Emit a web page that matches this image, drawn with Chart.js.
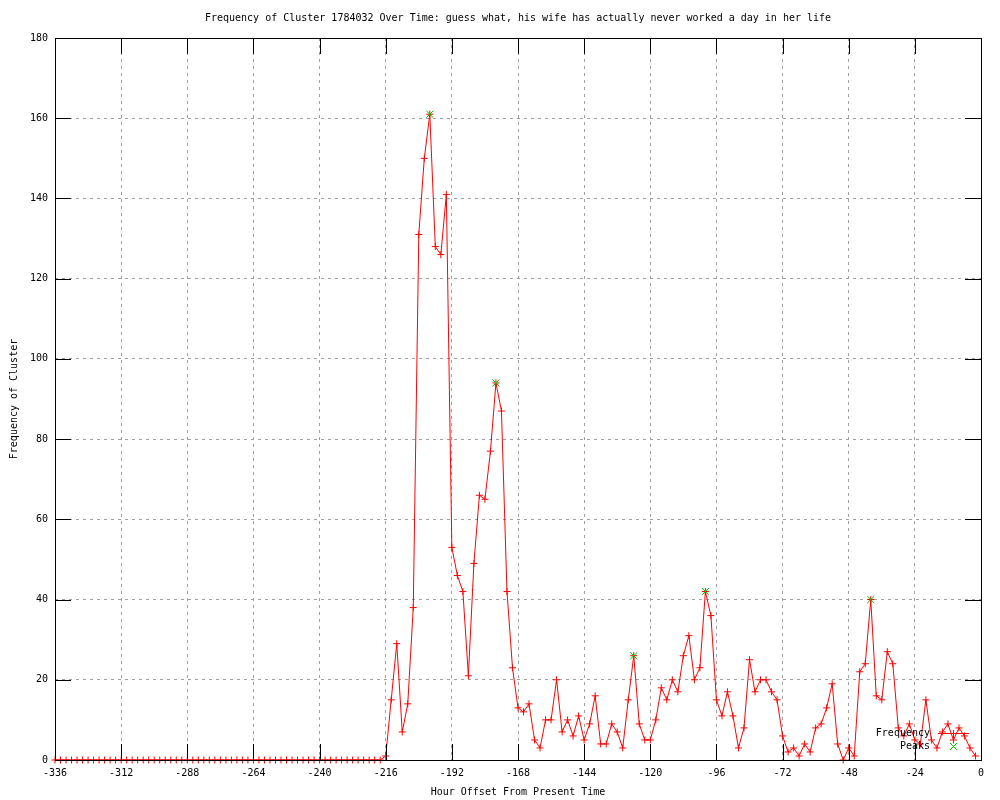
<!DOCTYPE html>
<html><head><meta charset="utf-8">
<script src="https://cdn.jsdelivr.net/npm/chart.js@4/dist/chart.umd.min.js"></script>
<style>html,body{margin:0;padding:0;background:#fff}canvas{display:block}</style>
</head><body>
<canvas id="c" width="1000" height="800"></canvas>
<script>
const titleText = 'Frequency of Cluster 1784032 Over Time: guess what, his wife has actually never worked a day in her life';
const xTitle = 'Hour Offset From Present Time';
const yTitle = 'Frequency of Cluster';

const hours = [
-336,-334,-332,-330,-328,-326,-324,-322,-320,-318,-316,-314,-312,-310,-308,-306,-304,-302,-300,-298,
-296,-294,-292,-290,-288,-286,-284,-282,-280,-278,-276,-274,-272,-270,-268,-266,-264,-262,-260,-258,
-256,-254,-252,-250,-248,-246,-244,-242,-240,-238,-236,-234,-232,-230,-228,-226,-224,-222,-220,-218,
-216,-214,-212,-210,-208,-206,-204,-202,-200,-198,-196,-194,-192,-190,-188,-186,-184,-182,-180,-178,
-176,-174,-172,-170,-168,-166,-164,-162,-160,-158,-156,-154,-152,-150,-148,-146,-144,-142,-140,-138,
-136,-134,-132,-130,-128,-126,-124,-122,-120,-118,-116,-114,-112,-110,-108,-106,-104,-102,-100,-98,
-96,-94,-92,-90,-88,-86,-84,-82,-80,-78,-76,-74,-72,-70,-68,-66,-64,-62,-60,-58,
-56,-54,-52,-50,-48,-46,-44,-42,-40,-38,-36,-34,-32,-30,-28,-26,-24,-22,-20,-18,
-16,-14,-12,-10,-8,-6,-4,-2
];
const frequency = [
0,0,0,0,0,0,0,0,0,0,0,0,0,0,0,0,0,0,0,0,
0,0,0,0,0,0,0,0,0,0,0,0,0,0,0,0,0,0,0,0,
0,0,0,0,0,0,0,0,0,0,0,0,0,0,0,0,0,0,0,0,
1,15,29,7,14,38,131,150,161,128,126,141,53,46,42,21,49,66,65,77,
94,87,42,23,13,12,14,5,3,10,10,20,7,10,6,11,5,9,16,4,
4,9,7,3,15,26,9,5,5,10,18,15,20,17,26,31,20,23,42,36,
15,11,17,11,3,8,25,17,20,20,17,15,6,2,3,1,4,2,8,9,
13,19,4,0,3,1,22,24,40,16,15,27,24,8,6,9,5,4,15,5,
3,7,9,5,8,6,3,1
];
const peakHours = [-200, -176, -126, -100, -40];
const peakValues = [161, 94, 26, 42, 40];
const xTickValues = [-336,-312,-288,-264,-240,-216,-192,-168,-144,-120,-96,-72,-48,-24,0];
const yTickValues = [0,20,40,60,80,100,120,140,160,180];
const seriesNames = ['Frequency', 'Peaks'];

const RED = '#ff0000', GREEN = '#00c000';
const FONT = "'DejaVu Sans Mono', 'Liberation Mono', monospace";
Chart.defaults.font.family = FONT;
Chart.defaults.font.size = 10;
Chart.defaults.color = '#000';

const TICK = 16;
const framePlugin = {
  id: 'frame',
  afterDatasetsDraw(chart) {
    const ctx = chart.ctx, a = chart.chartArea;
    const xs = chart.scales.x, ys = chart.scales.y;
    ctx.save();
    ctx.strokeStyle = '#000';
    ctx.lineWidth = 1;
    ctx.setLineDash([]);
    ctx.beginPath();
    xs.ticks.forEach(t => {
      const px = Math.round(xs.getPixelForValue(t.value)) + 0.5;
      ctx.moveTo(px, a.bottom); ctx.lineTo(px, a.bottom - TICK);
      ctx.moveTo(px, a.top); ctx.lineTo(px, a.top + TICK);
    });
    ys.ticks.forEach(t => {
      const py = Math.round(ys.getPixelForValue(t.value)) + 0.5;
      ctx.moveTo(a.left, py); ctx.lineTo(a.left + TICK, py);
      ctx.moveTo(a.right, py); ctx.lineTo(a.right - TICK, py);
    });
    ctx.stroke();
    ctx.strokeRect(Math.round(a.left) + 0.5, Math.round(a.top) + 0.5, Math.round(a.right - a.left), Math.round(a.bottom - a.top));

    // title centred over the plot
    ctx.font = '10px ' + FONT;
    ctx.fillStyle = '#000';
    ctx.textAlign = 'center';
    ctx.textBaseline = 'middle';
    ctx.fillText(titleText, (a.left + a.right) / 2, 18);

    // key (legend) in lower right
    const tx = a.right - 51, lx1 = a.right - 43, lx2 = a.right - 12, mx = a.right - 28;
    const y1 = a.bottom - 27, y2 = a.bottom - 14;
    ctx.textAlign = 'right';
    ctx.fillText(seriesNames[0], tx, y1);
    ctx.fillText(seriesNames[1], tx, y2);
    ctx.strokeStyle = RED;
    ctx.beginPath();
    ctx.moveTo(lx1, y1 + 0.5); ctx.lineTo(lx2, y1 + 0.5);
    ctx.moveTo(mx + 0.5, y1 - 3); ctx.lineTo(mx + 0.5, y1 + 4);
    ctx.stroke();
    ctx.strokeStyle = GREEN;
    ctx.beginPath();
    ctx.moveTo(mx - 3, y2 - 3); ctx.lineTo(mx + 4, y2 + 4);
    ctx.moveTo(mx + 4, y2 - 3); ctx.lineTo(mx - 3, y2 + 4);
    ctx.stroke();
    ctx.restore();
  }
};

new Chart(document.getElementById('c'), {
  type: 'line',
  data: {
    datasets: [
      {
        label: seriesNames[0],
        data: hours.map((h, i) => ({x: h, y: frequency[i]})),
        borderColor: RED, borderWidth: 1, tension: 0, fill: false,
        pointStyle: 'cross', pointRadius: 3.5, pointBorderColor: RED, pointBorderWidth: 1,
        clip: false, order: 1
      },
      {
        label: seriesNames[1],
        data: peakHours.map((h, i) => ({x: h, y: peakValues[i]})),
        showLine: false,
        pointStyle: 'crossRot', pointRadius: 5, pointBorderColor: GREEN, pointBorderWidth: 1,
        borderColor: GREEN, clip: false, order: 0
      }
    ]
  },
  options: {
    responsive: false, animation: false, devicePixelRatio: 1,
    events: [],
    layout: {padding: {left: 0, right: 19, top: 38, bottom: 0}},
    plugins: {
      legend: {display: false},
      tooltip: {enabled: false},
      title: {display: false}
    },
    scales: {
      x: {
        type: 'linear', min: -336, max: 0,
        afterBuildTicks: s => { s.ticks = xTickValues.map(v => ({value: v})); },
        afterFit: s => { s.height = 40; },
        grid: {color: '#a0a0a0', drawTicks: false, lineWidth: 1},
        border: {display: false, dash: [3, 4]},
        ticks: {color: '#000', padding: 7, maxRotation: 0, autoSkip: false},
        title: {display: true, text: xTitle, color: '#000', padding: {top: 0, bottom: 2}}
      },
      y: {
        type: 'linear', min: 0, max: 180,
        afterBuildTicks: s => { s.ticks = yTickValues.map(v => ({value: v})); },
        afterFit: s => { s.width = 55; },
        grid: {color: '#a0a0a0', drawTicks: false, lineWidth: 1},
        border: {display: false, dash: [3, 4]},
        ticks: {color: '#000', padding: 7, autoSkip: false},
        title: {display: true, text: yTitle, color: '#000', padding: {top: 8, bottom: 0}}
      }
    }
  },
  plugins: [framePlugin]
});
</script>
</body></html>
